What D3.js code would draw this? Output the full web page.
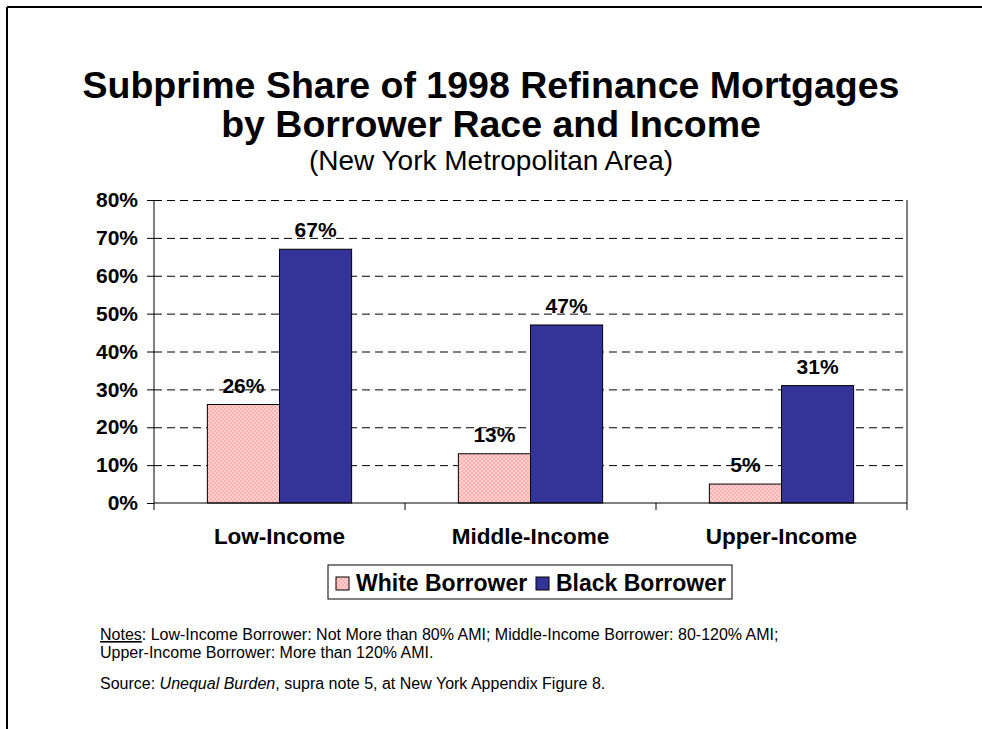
<!DOCTYPE html>
<html>
<head>
<meta charset="utf-8">
<script src="https://cdn.jsdelivr.net/npm/d3@7"></script>
<style>
  body { margin: 0; background: #fff; }
  svg { display: block; font-family: "Liberation Sans", Arial, sans-serif; }
</style>
</head>
<body>
<div id="chart"></div>
<script>
// Données
const categories = ["Low-Income", "Middle-Income", "Upper-Income"];
const series = ["White Borrower", "Black Borrower"];
const whiteValues = [0.26, 0.13, 0.05];
const blackValues = [0.67, 0.47, 0.31];
const yTicks = [0, 0.1, 0.2, 0.3, 0.4, 0.5, 0.6, 0.7, 0.8];

const W = 982, H = 729;
const svg = d3.select("#chart").append("svg")
    .attr("width", W).attr("height", H);

// Motif hachuré rose pour la série blanche
const defs = svg.append("defs");
const pat = defs.append("pattern")
    .attr("id", "rose").attr("patternUnits", "userSpaceOnUse")
    .attr("width", 4).attr("height", 4);
pat.append("rect").attr("width", 4).attr("height", 4).attr("fill", "#ffb0b0");
pat.append("rect").attr("width", 2).attr("height", 2).attr("fill", "#ffd0d0");
pat.append("rect").attr("x", 2).attr("y", 2).attr("width", 2).attr("height", 2).attr("fill", "#ffd0d0");

const couleurs = { "White Borrower": "url(#rose)", "Black Borrower": "#333399" };

// Cadre de la page (haut + gauche)
svg.append("line").attr("x1", 7).attr("y1", 7).attr("x2", W).attr("y2", 7)
    .attr("stroke", "#000").attr("stroke-width", 2);
svg.append("line").attr("x1", 7).attr("y1", 7).attr("x2", 7).attr("y2", H)
    .attr("stroke", "#000").attr("stroke-width", 2);

// Titres
svg.append("text").attr("x", 491).attr("y", 98).attr("text-anchor", "middle")
    .attr("font-size", 37.5).attr("font-weight", "bold")
    .text("Subprime Share of 1998 Refinance Mortgages");
svg.append("text").attr("x", 491).attr("y", 137).attr("text-anchor", "middle")
    .attr("font-size", 37.5).attr("font-weight", "bold")
    .text("by Borrower Race and Income");
svg.append("text").attr("x", 491).attr("y", 170).attr("text-anchor", "middle")
    .attr("font-size", 28)
    .text("(New York Metropolitan Area)");

// Zone de tracé
const gauche = 154, droite = 907, haut = 200, bas = 503;

const x0 = d3.scaleBand().domain(categories).range([gauche, droite]).padding(0);
const x1 = d3.scaleBand().domain(series).range([0, x0.bandwidth()])
    .paddingInner(0).paddingOuter(0.74);
const y = d3.scaleLinear().domain([0, 0.8]).range([bas, haut]);

// Grille pointillée
const grille = svg.append("g")
    .attr("transform", "translate(" + gauche + ",0)")
    .call(d3.axisLeft(y).tickValues(yTicks.slice(1)).tickSize(-(droite - gauche)).tickFormat(""));
grille.select(".domain").remove();
grille.selectAll("line").attr("stroke", "#000").attr("stroke-dasharray", "8,5");

// Barres
const donnees = categories.map((c, i) => ({ cat: c, vals: [
    { serie: series[0], v: whiteValues[i] },
    { serie: series[1], v: blackValues[i] }
]}));

const groupes = svg.append("g").selectAll("g").data(donnees).join("g")
    .attr("transform", d => "translate(" + x0(d.cat) + ",0)");

groupes.selectAll("rect").data(d => d.vals).join("rect")
    .attr("x", d => x1(d.serie))
    .attr("y", d => y(d.v))
    .attr("width", x1.bandwidth())
    .attr("height", d => bas - y(d.v))
    .attr("fill", d => couleurs[d.serie])
    .attr("stroke", "#000").attr("stroke-width", 1);

groupes.selectAll("text").data(d => d.vals).join("text")
    .attr("x", d => x1(d.serie) + x1.bandwidth() / 2)
    .attr("y", d => y(d.v) - 12)
    .attr("text-anchor", "middle")
    .attr("font-size", 21).attr("font-weight", "bold")
    .text(d => d3.format(".0%")(d.v));

// Bordure droite
svg.append("line").attr("x1", droite).attr("y1", haut).attr("x2", droite).attr("y2", bas)
    .attr("stroke", "#000").attr("stroke-width", 1);

// Axe Y
const axeY = svg.append("g")
    .attr("transform", "translate(" + gauche + ",0)")
    .call(d3.axisLeft(y).tickValues(yTicks).tickSize(7).tickPadding(9).tickFormat(d3.format(".0%")));
axeY.select(".domain").attr("stroke", "#000").attr("d", "M0," + haut + "V" + bas);
axeY.selectAll("text").attr("font-size", 21).attr("font-weight", "bold")
    .attr("font-family", "Liberation Sans, Arial, sans-serif").attr("fill", "#000");

// Axe X
const axeX = svg.append("g")
    .attr("transform", "translate(0," + bas + ")")
    .call(d3.axisBottom(x0).tickSize(0).tickPadding(25));
axeX.select(".domain").attr("stroke", "#000").attr("d", "M" + gauche + ",0H" + droite);
axeX.selectAll("text").attr("font-size", 22.5).attr("font-weight", "bold")
    .attr("font-family", "Liberation Sans, Arial, sans-serif").attr("fill", "#000");
// Graduations entre les catégories
const bornes = categories.map(c => x0(c)).concat([droite]);
axeX.selectAll("line.borne").data(bornes).join("line").attr("class", "borne")
    .attr("x1", d => d).attr("x2", d => d).attr("y1", 0).attr("y2", 7)
    .attr("stroke", "#000");

// Légende
const leg = svg.append("g");
leg.append("rect").attr("x", 328).attr("y", 565).attr("width", 404).attr("height", 34)
    .attr("fill", "#fff").attr("stroke", "#000").attr("stroke-width", 1);
const legX = [336, 536];
series.forEach((s, i) => {
    leg.append("rect").attr("x", legX[i]).attr("y", 577).attr("width", 13).attr("height", 13)
        .attr("fill", couleurs[s]).attr("stroke", "#000");
    leg.append("text").attr("x", legX[i] + 20).attr("y", 591)
        .attr("font-size", 23).attr("font-weight", "bold").text(s);
});

// Notes et source
const notes = svg.append("g").attr("font-size", 16);
const n1 = notes.append("text").attr("x", 100).attr("y", 640);
n1.append("tspan").attr("text-decoration", "underline").text("Notes");
n1.append("tspan").text(": Low-Income Borrower: Not More than 80% AMI; Middle-Income Borrower: 80-120% AMI;");
notes.append("text").attr("x", 100).attr("y", 658)
    .text("Upper-Income Borrower: More than 120% AMI.");
const n3 = notes.append("text").attr("x", 100).attr("y", 689);
n3.append("tspan").text("Source: ");
n3.append("tspan").attr("font-style", "italic").text("Unequal Burden");
n3.append("tspan").text(", supra note 5, at New York Appendix Figure 8.");
</script>
</body>
</html>
